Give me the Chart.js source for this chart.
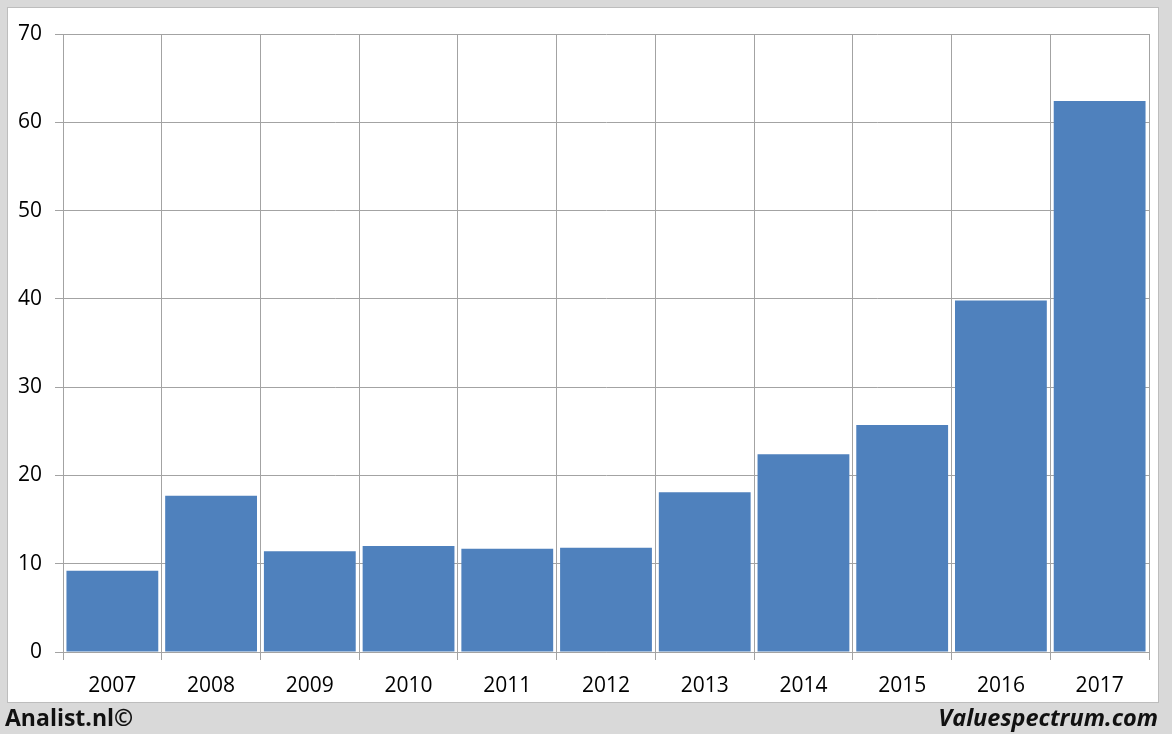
<!DOCTYPE html>
<html>
<head>
<meta charset="utf-8">
<script src="https://cdn.jsdelivr.net/npm/chart.js@4/dist/chart.umd.min.js"></script>
<style>
  html, body { margin: 0; padding: 0; }
  body { width: 1172px; height: 734px; background: #d9d9d9; position: relative; overflow: hidden; font-family: "Open Sans", sans-serif; }
  #panel { position: absolute; left: 7px; top: 7px; width: 1150px; height: 694px; background: #fff; border: 1px solid #bdbdbd; }
  #wrap { position: absolute; left: 0; top: 0; width: 1150px; height: 694px; }
  #left { position: absolute; left: 5px; top: 701px; font-weight: 700; font-size: 23px; line-height: 32px; color: #111; }
  #right { position: absolute; right: 14px; top: 701px; font-weight: 700; font-style: italic; font-size: 23.5px; line-height: 32px; color: #111; }
</style>
</head>
<body>
<div id="panel"><div id="wrap"><canvas id="c" width="1150" height="694"></canvas></div></div>
<div id="left">Analist.nl©</div>
<div id="right">Valuespectrum.com</div>
<script>
const years = ["2007","2008","2009","2010","2011","2012","2013","2014","2015","2016","2017"];
const values = [9.2, 17.7, 11.4, 12.0, 11.7, 11.8, 18.1, 22.4, 25.7, 39.8, 62.4];
const yTicks = [0, 10, 20, 30, 40, 50, 60, 70];

const gridColor = "#a3a3a3";
new Chart(document.getElementById("c"), {
  type: "bar",
  data: {
    labels: years,
    datasets: [{ data: values, backgroundColor: "#4f81bd", borderWidth: 0, barPercentage: 0.93, categoryPercentage: 1.0 }]
  },
  options: {
    responsive: false,
    animation: false,
    plugins: { legend: { display: false }, tooltip: { enabled: false } },
    layout: { padding: { top: 26, right: 9, left: 0, bottom: 0 } },
    scales: {
      x: {
        grid: { color: gridColor, lineWidth: 1, tickLength: 8, offset: true },
        border: { color: gridColor },
        ticks: { color: "#000", font: { family: "Open Sans", size: 21 }, padding: 13, maxRotation: 0 },
        afterFit: (s) => { s.height = 50; }
      },
      y: {
        min: 0, max: 70,
        afterBuildTicks: (s) => { s.ticks = yTicks.map(v => ({ value: v })); },
        grid: { color: gridColor, lineWidth: 1, tickLength: 8 },
        border: { color: gridColor },
        ticks: { color: "#000", font: { family: "Open Sans", size: 21 }, padding: 13 },
        afterFit: (s) => { s.width = 55; }
      }
    }
  }
});
</script>
</body>
</html>
